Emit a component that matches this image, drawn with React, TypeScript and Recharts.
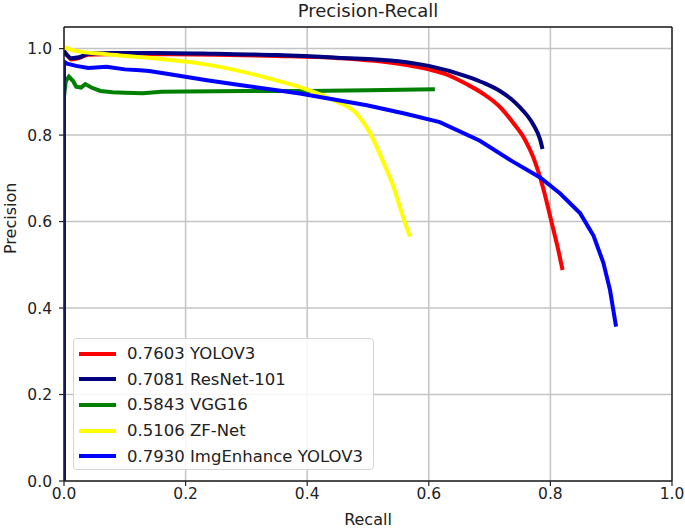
import React from "react";
import {
  LineChart,
  Line,
  XAxis,
  YAxis,
  CartesianGrid,
  ReferenceLine,
} from "recharts";

// axis ticks
const xTicks = [0, 0.2, 0.4, 0.6, 0.8, 1.0];
const yTicks = [0, 0.2, 0.4, 0.6, 0.8, 1.0];

// YOLOV3
const yoloRecall = [0, 0.005, 0.012, 0.025, 0.04, 0.07, 0.15, 0.25, 0.35, 0.45, 0.55, 0.6, 0.63, 0.662, 0.69, 0.717, 0.739, 0.758, 0.772, 0.788, 0.802, 0.813, 0.82];
const yoloPrecision = [0.99, 0.985, 0.975, 0.978, 0.986, 0.987, 0.987, 0.986, 0.983, 0.978, 0.965, 0.952, 0.94, 0.918, 0.895, 0.865, 0.828, 0.79, 0.748, 0.678, 0.598, 0.534, 0.488];

// ResNet-101
const resnetRecall = [0, 0.005, 0.012, 0.025, 0.04, 0.08, 0.15, 0.25, 0.35, 0.45, 0.55, 0.6, 0.662, 0.69, 0.717, 0.735, 0.75, 0.762, 0.772, 0.783, 0.787];
const resnetPrecision = [0.995, 0.985, 0.978, 0.98, 0.988, 0.99, 0.99, 0.988, 0.985, 0.979, 0.971, 0.96, 0.936, 0.921, 0.902, 0.884, 0.864, 0.845, 0.824, 0.79, 0.768];

// VGG16
const vggRecall = [0, 0.003, 0.008, 0.015, 0.02, 0.028, 0.035, 0.045, 0.06, 0.08, 0.1, 0.13, 0.16, 0.2, 0.3, 0.4, 0.5, 0.61];
const vggPrecision = [0.89, 0.925, 0.935, 0.925, 0.912, 0.91, 0.918, 0.91, 0.902, 0.899, 0.898, 0.897, 0.9, 0.901, 0.902, 0.902, 0.904, 0.906];

// ZF-Net
const zfRecall = [0, 0.01, 0.026, 0.07, 0.152, 0.2, 0.235, 0.289, 0.34, 0.388, 0.443, 0.481, 0.503, 0.525, 0.542, 0.555, 0.569];
const zfPrecision = [1.004, 0.998, 0.993, 0.987, 0.977, 0.97, 0.963, 0.948, 0.93, 0.911, 0.881, 0.85, 0.806, 0.738, 0.68, 0.622, 0.565];

// ImgEnhance YOLOV3
const imgRecall = [0, 0, 0.005, 0.02, 0.04, 0.07, 0.1, 0.125, 0.14, 0.169, 0.235, 0.289, 0.388, 0.498, 0.56, 0.618, 0.684, 0.739, 0.783, 0.816, 0.849, 0.871, 0.887, 0.898, 0.908];
const imgPrecision = [0, 0.97, 0.965, 0.96, 0.955, 0.958, 0.952, 0.95, 0.948, 0.942, 0.927, 0.916, 0.896, 0.869, 0.85, 0.83, 0.787, 0.738, 0.702, 0.665, 0.619, 0.567, 0.505, 0.442, 0.357];

const toPoints = (rs: number[], ps: number[]) => rs.map((r, i) => ({ x: r, y: ps[i] }));

const series = [
  { name: "0.7603 YOLOV3", color: "#ff0000", curve: "monotone", data: toPoints(yoloRecall, yoloPrecision) },
  { name: "0.7081 ResNet-101", color: "#000080", curve: "monotone", data: toPoints(resnetRecall, resnetPrecision) },
  { name: "0.5843 VGG16", color: "#008000", curve: "linear", data: toPoints(vggRecall, vggPrecision) },
  { name: "0.5106 ZF-Net", color: "#ffff00", curve: "monotone", data: toPoints(zfRecall, zfPrecision) },
  { name: "0.7930 ImgEnhance YOLOV3", color: "#0000ff", curve: "linear", data: toPoints(imgRecall, imgPrecision) },
];

const FONT = "'DejaVu Sans', sans-serif";

// legend drawn as an overlay so it doesn't eat chart space
function LegendBox() {
  return (
    <div
      style={{
        position: "absolute",
        left: 73,
        top: 338,
        width: 301,
        height: 132,
        boxSizing: "border-box",
        border: "1px solid #d4d4d4",
        borderRadius: 4,
        background: "rgba(255,255,255,0.85)",
        paddingTop: 2,
        fontFamily: FONT,
        fontSize: 16.5,
        color: "#222",
      }}
    >
      {series.map((s) => (
        <div key={s.name} style={{ display: "flex", alignItems: "center", height: 25.6 }}>
          <span style={{ display: "inline-block", marginLeft: 5, width: 37, height: 4, background: s.color }} />
          <span style={{ marginLeft: 11, whiteSpace: "nowrap" }}>{s.name}</span>
        </div>
      ))}
    </div>
  );
}

export default function App() {
  return (
    <div style={{ position: "absolute", left: 0, top: 0, width: 685, height: 529, background: "#fff" }}>
      <div
        style={{
          position: "absolute",
          left: 0,
          width: 736,
          top: 0,
          textAlign: "center",
          fontFamily: FONT,
          fontSize: 18,
          color: "#222",
        }}
      >
        Precision-Recall
      </div>
      <LineChart width={685} height={529} margin={{ top: 27, right: 13, bottom: 0, left: 0 }}>
        <CartesianGrid stroke="#c4c4c4" strokeWidth={1.5} />
        <XAxis
          type="number"
          dataKey="x"
          domain={[0, 1]}
          ticks={xTicks}
          tickFormatter={(v: number) => v.toFixed(1)}
          height={48}
          allowDataOverflow
          axisLine={{ stroke: "#222", strokeWidth: 1.5 }}
          tickLine={{ stroke: "#222", strokeWidth: 1.2 }}
          tickSize={5}
          tickMargin={2}
          tick={{ fill: "#222", fontSize: 15.5, fontFamily: FONT }}
          label={{ value: "Recall", position: "insideBottom", offset: 4, fill: "#222", fontSize: 16, fontFamily: FONT }}
        />
        <YAxis
          type="number"
          dataKey="y"
          domain={[0, 1.05]}
          ticks={yTicks}
          tickFormatter={(v: number) => v.toFixed(1)}
          width={64}
          allowDataOverflow
          axisLine={{ stroke: "#222", strokeWidth: 1.5 }}
          tickLine={{ stroke: "#222", strokeWidth: 1.2 }}
          tickSize={5}
          tickMargin={7}
          tick={{ fill: "#222", fontSize: 15.5, fontFamily: FONT }}
          label={{ value: "Precision", angle: -90, position: "insideLeft", offset: 10, fill: "#222", fontSize: 16, fontFamily: FONT }}
        />
        <ReferenceLine x={1} stroke="#222" strokeWidth={1.5} />
        <ReferenceLine y={1.05} stroke="#222" strokeWidth={1.5} />
        {series.map((s) => (
          <Line
            key={s.name}
            data={s.data}
            dataKey="y"
            name={s.name}
            type={s.curve as "monotone" | "linear"}
            stroke={s.color}
            strokeWidth={4}
            dot={false}
            activeDot={false}
            isAnimationActive={false}
          />
        ))}
      </LineChart>
      <LegendBox />
    </div>
  );
}
